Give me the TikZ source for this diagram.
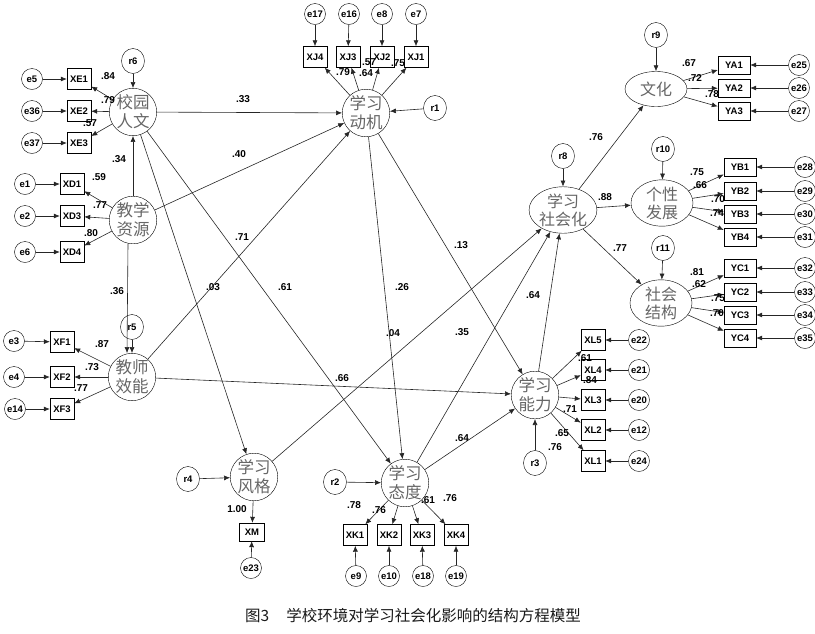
\documentclass[tikz,border=0pt]{standalone}
\usepackage{fontspec}
\setmainfont{Liberation Sans}
\newfontfamily\cjk{Noto Sans CJK SC}
\usetikzlibrary{arrows.meta,shapes.geometric}
\tikzset{
  lat/.style={draw, circle, minimum size=45pt, inner sep=0pt, align=center,
    font=\cjk\fontsize{16.5}{19}\selectfont\color{black!60}},
  latell/.style={draw, ellipse, minimum width=62pt, minimum height=36pt, inner sep=0pt, align=center,
    font=\cjk\fontsize{16}{18}\selectfont\color{black!60}},
  obs/.style={draw, rectangle, minimum width=24pt, minimum height=21pt, inner sep=0pt,
    font=\bfseries\fontsize{9.5}{10}\selectfont},
  obsr/.style={obs, minimum width=32pt, minimum height=18pt},
  err/.style={draw, circle, minimum size=21pt, inner sep=0pt, font=\bfseries\fontsize{9.5}{10}\selectfont},
  res/.style={draw, ellipse, minimum width=23pt, minimum height=25pt, inner sep=0pt,
    font=\bfseries\fontsize{9.5}{10}\selectfont},
  coef/.style={inner sep=0pt, font=\bfseries\fontsize{10}{11}\selectfont},
  arr/.style={-{Latex[length=6pt,width=5pt]}, draw=black!85, line width=0.6pt},
}
\begin{document}
\begin{tikzpicture}[x=1pt,y=-1pt]
\useasboundingbox (0,0) rectangle (815,633);
% latent variables
\node[lat] (xy) at (133,112) {校园\\人文};
\node[lat] (jx) at (133,220) {教学\\资源};
\node[lat] (js) at (132,377) {教师\\效能};
\node[lat] (xj) at (366,113) {学习\\动机};
\node[lat, minimum size=42pt] (fg) at (254,477) {学习\\风格};
\node[lat] (td) at (405,483) {学习\\态度};
\node[lat] (nl) at (535,395) {学习\\能力};
\node[latell] (sh) at (563,210) {学习\\社会化};
\node[latell, minimum height=35pt] (wh) at (656,89) {文化};
\node[latell, minimum height=38pt] (gx) at (662,203) {个性\\发展};
\node[latell, minimum height=40pt] (jg) at (661,303) {社会\\结构};
% residuals
\node[res] (r6) at (133,61) {r6};
\node[res] (r5) at (132,327) {r5};
\node[res] (r1) at (435,108) {r1};
\node[res] (r8) at (563,156) {r8};
\node[res] (r9) at (656,35) {r9};
\node[res] (r10) at (663,149) {r10};
\node[res] (r11) at (663,248) {r11};
\node[res] (r3) at (535,463) {r3};
\node[res] (r2) at (335,482) {r2};
\node[res] (r4) at (188,479) {r4};
% indicators of the school side
\node[obs] (xe1) at (79,79) {XE1};
\node[obs] (xe2) at (79,111) {XE2};
\node[obs] (xe3) at (79,143) {XE3};
\node[obs] (xd1) at (72,184) {XD1};
\node[obs] (xd3) at (72,216) {XD3};
\node[obs] (xd4) at (72,252) {XD4};
\node[obs] (xf1) at (62,342) {XF1};
\node[obs] (xf2) at (62,377) {XF2};
\node[obs] (xf3) at (62,409) {XF3};
\node[err] (e5) at (32,79) {e5};
\node[err] (e36) at (32,111) {e36};
\node[err] (e37) at (32,143) {e37};
\node[err] (e1) at (25,184) {e1};
\node[err] (e2) at (25,216) {e2};
\node[err] (e6) at (25,252) {e6};
\node[err] (e3) at (14,341) {e3};
\node[err] (e4) at (14,377) {e4};
\node[err] (e14) at (15,409) {e14};
% indicators of motivation
\node[obs] (xj4) at (315,57) {XJ4};
\node[obs] (xj3) at (348,57) {XJ3};
\node[obs] (xj2) at (382,57) {XJ2};
\node[obs] (xj1) at (416,57) {XJ1};
\node[err] (e17) at (315,14) {e17};
\node[err] (e16) at (349,14) {e16};
\node[err] (e8) at (382,14) {e8};
\node[err] (e7) at (416,14) {e7};
% indicators of socialisation
\node[obsr] (ya1) at (734,65) {YA1};
\node[obsr] (ya2) at (734,88) {YA2};
\node[obsr] (ya3) at (734,111) {YA3};
\node[obsr] (yb1) at (740,167) {YB1};
\node[obsr] (yb2) at (740,191) {YB2};
\node[obsr] (yb3) at (740,214) {YB3};
\node[obsr] (yb4) at (740,237) {YB4};
\node[obsr] (yc1) at (740,268) {YC1};
\node[obsr] (yc2) at (740,292) {YC2};
\node[obsr] (yc3) at (740,315) {YC3};
\node[obsr] (yc4) at (740,338) {YC4};
\node[err] (e25) at (799,65) {e25};
\node[err] (e26) at (799,88) {e26};
\node[err] (e27) at (799,111) {e27};
\node[err] (e28) at (805,167) {e28};
\node[err] (e29) at (805,191) {e29};
\node[err] (e30) at (805,214) {e30};
\node[err] (e31) at (805,237) {e31};
\node[err] (e32) at (805,268) {e32};
\node[err] (e33) at (805,292) {e33};
\node[err] (e34) at (805,315) {e34};
\node[err] (e35) at (805,338) {e35};
% indicators of ability
\node[obs] (xl5) at (593,340) {XL5};
\node[obs] (xl4) at (593,370) {XL4};
\node[obs] (xl3) at (593,400) {XL3};
\node[obs] (xl2) at (593,430) {XL2};
\node[obs] (xl1) at (593,461) {XL1};
\node[err] (e22) at (639,340) {e22};
\node[err] (e21) at (639,370) {e21};
\node[err] (e20) at (639,400) {e20};
\node[err] (e12) at (639,430) {e12};
\node[err] (e24) at (639,461) {e24};
% indicators of attitude and style
\node[obs] (xk1) at (355,535) {XK1};
\node[obs] (xk2) at (389,535) {XK2};
\node[obs] (xk3) at (422,535) {XK3};
\node[obs] (xk4) at (456,535) {XK4};
\node[err] (e9) at (356,576) {e9};
\node[err] (e10) at (389,576) {e10};
\node[err] (e18) at (423,576) {e18};
\node[err] (e19) at (456,576) {e19};
\node[obs, minimum width=25pt, minimum height=18pt] (xm) at (252,532) {XM};
\node[err] (e23) at (251,568) {e23};
% measurement arrows
\foreach \l/\b/\e in {xy/xe1/e5, xy/xe2/e36, xy/xe3/e37, jx/xd1/e1, jx/xd3/e2, jx/xd4/e6,
    js/xf1/e3, js/xf2/e4, js/xf3/e14, xj/xj4/e17, xj/xj3/e16, xj/xj2/e8, xj/xj1/e7,
    wh/ya1/e25, wh/ya2/e26, wh/ya3/e27, gx/yb1/e28, gx/yb2/e29, gx/yb3/e30, gx/yb4/e31,
    jg/yc1/e32, jg/yc2/e33, jg/yc3/e34, jg/yc4/e35, nl/xl5/e22, nl/xl4/e21, nl/xl3/e20,
    nl/xl2/e12, nl/xl1/e24, td/xk1/e9, td/xk2/e10, td/xk3/e18, td/xk4/e19, fg/xm/e23}
  {\draw[arr] (\l) -- (\b); \draw[arr] (\e) -- (\b);}
\foreach \r/\l in {r6/xy, r5/js, r1/xj, r8/sh, r9/wh, r10/gx, r11/jg, r3/nl, r2/td, r4/fg}
  \draw[arr] (\r) -- (\l);
% structural paths
\draw[arr] (jx) -- (xy);
\draw[arr] (xy) -- (xj);
\draw[arr] (jx) -- (xj);
\draw[arr] (js) -- (xj);
\draw[arr] ([xshift=-5pt]jx.south) -- ([xshift=-5pt]js.north);
\draw[arr] (xy) -- (fg);
\draw[arr] (xy) -- (td);
\draw[arr] (js) -- (nl);
\draw[arr] (fg) -- (sh);
\draw[arr] (xj) -- (td);
\draw[arr] (xj) -- (nl);
\draw[arr] (td) -- (sh);
\draw[arr] (td) -- (nl);
\draw[arr] (nl) -- (sh);
\draw[arr] (sh) -- (wh);
\draw[arr] (sh) -- (gx);
\draw[arr] (sh) -- (jg);
% coefficients
\foreach \v/\p [count=\i] in {.84/{108,76}, .79/{108,100}, .57/{90,123}, .59/{99,177}, .77/{100,205},
    .80/{91,233}, .87/{102,344}, .73/{92,367}, .77/{81,388}, .79/{343,72}, .64/{366,73},
    .57/{369,62}, .75/{398,63}, .67/{689,63}, .72/{695,78}, .78/{712,94}, .75/{697,172},
    .66/{700,185}, .70/{718,199}, .74/{717,213}, .81/{697,272}, .62/{699,284}, .75/{718,298},
    .70/{717,313}, .61/{585,358}, .84/{590,380}, .71/{570,409}, .65/{562,433}, .76/{555,447},
    .78/{354,505}, .76/{379,510}, .61/{428,500}, .76/{450,498}, 1.00/{237,509}, .33/{243,99},
    .34/{119,159}, .40/{239,154}, .71/{242,237}, .03/{213,287}, .36/{117,291}, .61/{285,287},
    .26/{402,287}, .13/{461,245}, .04/{393,333}, .35/{462,332}, .66/{342,378}, .64/{533,295},
    .64/{462,438}, .76/{596,137}, .88/{605,197}, .77/{620,248}}
  \node[coef] (c\i) at (\p) {\v};
\node[font=\cjk\fontsize{15.5}{17}\selectfont, text=black!90] (title) at (413,616) {图3\hspace{1.1em}学校环境对学习社会化影响的结构方程模型};
\end{tikzpicture}
\end{document}
